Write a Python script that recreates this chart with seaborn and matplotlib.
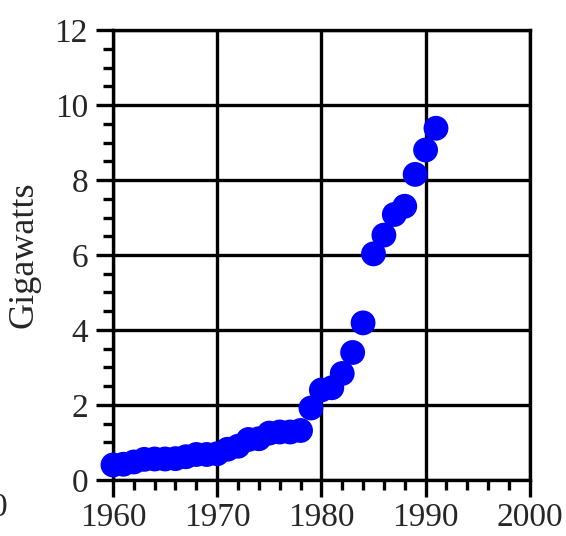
import matplotlib
matplotlib.use("Agg")
import matplotlib.pyplot as plt
import seaborn as sns
from matplotlib.ticker import MultipleLocator

# Installed capacity
years = list(range(1960, 1992))
gigawatts = [0.40, 0.42, 0.48, 0.55, 0.56, 0.56, 0.57, 0.62, 0.68, 0.68,
             0.70, 0.82, 0.90, 1.08, 1.10, 1.25, 1.28, 1.28, 1.32, 1.92,
             2.40, 2.46, 2.84, 3.40, 4.19, 6.03, 6.53, 7.08, 7.30, 8.15,
             8.80, 9.38]

x_ticks = [1960, 1970, 1980, 1990, 2000]
y_ticks = [0, 2, 4, 6, 8, 10, 12]

sns.set_style("white")
plt.rcParams['font.family'] = ['Liberation Serif', 'DejaVu Serif']

fig = plt.figure(figsize=(5.66, 5.36), dpi=100)
ax = fig.add_axes([0.1996, 0.1045, 0.7364, 0.8395])

sns.scatterplot(x=years, y=gigawatts, color='#0000ff', s=320,
                edgecolor='none', linewidth=0, ax=ax, zorder=5, clip_on=False)

ax.set_xlim(1960, 2000)
ax.set_ylim(0, 12)
ax.set_xticks(x_ticks)
ax.set_yticks(y_ticks)
ax.xaxis.set_minor_locator(MultipleLocator(2))
ax.yaxis.set_minor_locator(MultipleLocator(0.5))

ax.grid(True, which='major', color='black', linewidth=2.4)
ax.set_axisbelow(True)
for sp in ax.spines.values():
    sp.set_color('black')
    sp.set_linewidth(2.4)

ax.tick_params(which='major', direction='out', length=12, width=2.4,
               color='black', labelsize=24, pad=4,
               bottom=True, left=True)
ax.tick_params(which='minor', direction='out', length=7, width=2.4,
               color='black', bottom=True, left=True)
ax.tick_params(axis='y', which='major', pad=6)

ax.set_ylabel('Gigawatts', fontsize=26, labelpad=10)
ax.set_xlabel('')

# clipped label fragment at the lower-left edge
fig.text(7 / 566, 1 - 508 / 536, '0', fontsize=24, ha='right', va='center')

plt.savefig('out.png', dpi=100)
